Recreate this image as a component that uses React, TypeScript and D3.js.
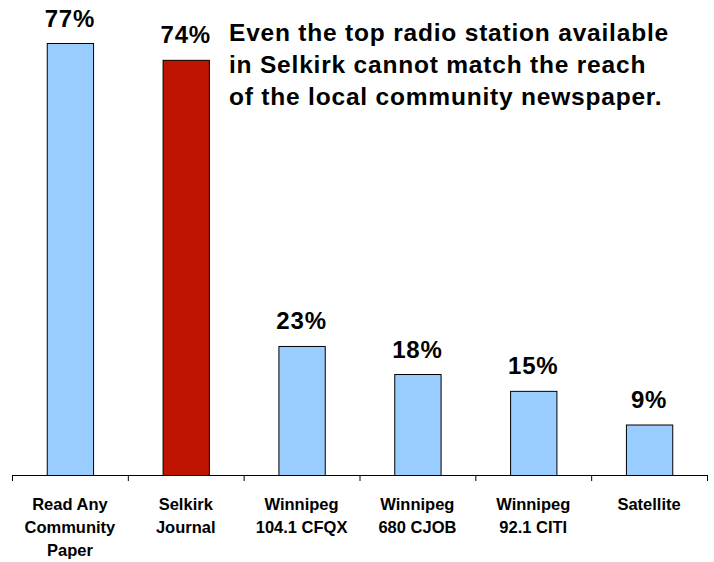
import React from "react";
import * as d3 from "d3";

const categories: string[][] = [
  ["Read Any", "Community", "Paper"],
  ["Selkirk", "Journal"],
  ["Winnipeg", "104.1 CFQX"],
  ["Winnipeg", "680 CJOB"],
  ["Winnipeg", "92.1 CITI"],
  ["Satellite"],
];
const values: number[] = [77, 74, 23, 18, 15, 9];
const barColors: string[] = ["#99CCFF", "#BF1400", "#99CCFF", "#99CCFF", "#99CCFF", "#99CCFF"];
const titleLines: string[] = [
  "Even the top radio station available",
  "in Selkirk cannot match the reach",
  "of the local community newspaper.",
];

const W = 714;
const H = 562;
const FONT = "'Liberation Sans', Arial, Helvetica, sans-serif";

export default function App() {
  const x = d3
    .scaleBand<number>()
    .domain(values.map((_, i) => i))
    .range([12, 707])
    .paddingInner(0.6)
    .paddingOuter(0.3);
  const y = d3.scaleLinear().domain([0, 77]).range([475, 43]);
  const step = x.step();
  const left = 12;
  const ticks = d3.range(values.length + 1).map((i) => left + i * step);

  return (
    <svg
      width={W}
      height={H}
      style={{ position: "absolute", left: 0, top: 0, background: "#fff" }}
      fontFamily={FONT}
    >
      {values.map((v, i) => {
        const bx = x(i)!;
        return (
          <g key={i}>
            <rect
              x={bx + 0.5}
              y={y(v) + 0.5}
              width={x.bandwidth()}
              height={y(0) - y(v)}
              fill={barColors[i]}
              stroke="#000"
              strokeWidth={1}
            />
            <text
              x={bx + x.bandwidth() / 2}
              y={y(v) - 16.5}
              textAnchor="middle"
              fontWeight="bold"
              fontSize={24}
              letterSpacing={0.8}
              fill="#000"
            >
              {v}%
            </text>
          </g>
        );
      })}
      <line x1={left} x2={left + step * values.length} y1={475.5} y2={475.5} stroke="#000" strokeWidth={1} />
      {ticks.map((t, i) => (
        <line key={i} x1={t + 0.5} x2={t + 0.5} y1={475} y2={481} stroke="#000" strokeWidth={1} />
      ))}
      {categories.map((lines, i) => (
        <text
          key={i}
          x={x(i)! + x.bandwidth() / 2}
          y={509.5}
          textAnchor="middle"
          fontWeight="bold"
          fontSize={16.5}
          fill="#000"
        >
          {lines.map((l, j) => (
            <tspan key={j} x={x(i)! + x.bandwidth() / 2} y={509.5 + j * 23.3}>
              {l}
            </tspan>
          ))}
        </text>
      ))}
      <text x={229} fontWeight="bold" fontSize={24.5} letterSpacing={0.8} fill="#000">
        {titleLines.map((l, j) => (
          <tspan key={j} x={229} y={41 + j * 31.8}>
            {l}
          </tspan>
        ))}
      </text>
    </svg>
  );
}
